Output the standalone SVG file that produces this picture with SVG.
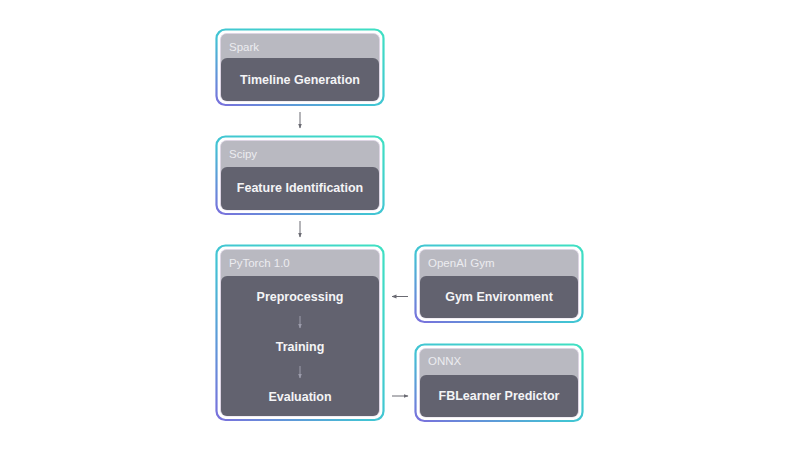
<svg xmlns="http://www.w3.org/2000/svg" width="800" height="450" viewBox="0 0 800 450">
<defs>
<linearGradient id="bord" x1="0" y1="1" x2="1" y2="0">
<stop offset="0" stop-color="#7a6fdc"/>
<stop offset="0.45" stop-color="#42c3d4"/>
<stop offset="1" stop-color="#3fe0c2"/>
</linearGradient>
<marker id="ah" viewBox="0 0 10 10" refX="9" refY="5" markerWidth="5" markerHeight="5" orient="auto">
<path d="M0,1 L10,5 L0,9 Z" fill="#6a6a72"/>
</marker>
<marker id="ahl" viewBox="0 0 10 10" refX="9" refY="5" markerWidth="5" markerHeight="5" orient="auto">
<path d="M0,1 L10,5 L0,9 Z" fill="#9c9cab"/>
</marker>
</defs>
<style>
.outer{fill:#ffffff;stroke:url(#bord);stroke-width:2.2}
.panel{fill:#b9b9c1;stroke:#ddd3e4;stroke-width:0.8}
.dark{fill:#62626f}
.hdr{font-family:"Liberation Sans",Arial,sans-serif;font-size:11.5px;fill:#ececf0}
.lbl{font-family:"Liberation Sans",Arial,sans-serif;font-size:12.5px;font-weight:bold;fill:#f4f4f6;text-anchor:middle;dominant-baseline:central}
.conn{stroke:#6a6a72;stroke-width:1;fill:none;marker-end:url(#ah)}
.inner{stroke:#9c9cab;stroke-width:1;fill:none;marker-end:url(#ahl)}
</style>
<rect width="800" height="450" fill="#ffffff"/>
<g id="spark">
<rect class="outer" x="216.5" y="29.5" width="167" height="75.5" rx="9"/>
<rect class="panel" x="220.5" y="33.5" width="159" height="67.5" rx="6"/>
<path class="dark" d="M221,64 a6,6 0 0 1 6,-6 h146 a6,6 0 0 1 6,6 v31 a6,6 0 0 1 -6,6 h-146 a6,6 0 0 1 -6,-6 Z"/>
<text class="hdr" x="229" y="51">Spark</text>
<text class="lbl" x="300" y="79.5">Timeline Generation</text>
</g>
<g id="scipy">
<rect class="outer" x="216.5" y="136.5" width="167" height="77.5" rx="9"/>
<rect class="panel" x="220.5" y="140.5" width="159" height="69.5" rx="6"/>
<path class="dark" d="M221,173 a6,6 0 0 1 6,-6 h146 a6,6 0 0 1 6,6 v31 a6,6 0 0 1 -6,6 h-146 a6,6 0 0 1 -6,-6 Z"/>
<text class="hdr" x="229" y="158">Scipy</text>
<text class="lbl" x="300" y="187.5">Feature Identification</text>
</g>
<g id="pytorch">
<rect class="outer" x="216.5" y="245.5" width="167" height="174.5" rx="9"/>
<rect class="panel" x="220.5" y="249.5" width="159" height="166.5" rx="6"/>
<path class="dark" d="M221,282 a6,6 0 0 1 6,-6 h146 a6,6 0 0 1 6,6 v128 a6,6 0 0 1 -6,6 h-146 a6,6 0 0 1 -6,-6 Z"/>
<text class="hdr" x="229" y="267">PyTorch 1.0</text>
<text class="lbl" x="300" y="296.5">Preprocessing</text>
<line class="inner" x1="300" y1="316" x2="300" y2="328"/>
<text class="lbl" x="300" y="346.5">Training</text>
<line class="inner" x1="300" y1="366" x2="300" y2="378"/>
<text class="lbl" x="300" y="396.5">Evaluation</text>
</g>
<g id="openai-gym">
<rect class="outer" x="415.5" y="245.5" width="167" height="76.5" rx="9"/>
<rect class="panel" x="419.5" y="249.5" width="159" height="68.5" rx="6"/>
<path class="dark" d="M420,282 a6,6 0 0 1 6,-6 h146 a6,6 0 0 1 6,6 v30 a6,6 0 0 1 -6,6 h-146 a6,6 0 0 1 -6,-6 Z"/>
<text class="hdr" x="428" y="267">OpenAI Gym</text>
<text class="lbl" x="499" y="296.5">Gym Environment</text>
</g>
<g id="onnx">
<rect class="outer" x="415.5" y="344.5" width="167" height="76.5" rx="9"/>
<rect class="panel" x="419.5" y="348.5" width="159" height="68.5" rx="6"/>
<path class="dark" d="M420,381 a6,6 0 0 1 6,-6 h146 a6,6 0 0 1 6,6 v30 a6,6 0 0 1 -6,6 h-146 a6,6 0 0 1 -6,-6 Z"/>
<text class="hdr" x="428" y="365">ONNX</text>
<text class="lbl" x="499" y="395.5">FBLearner Predictor</text>
</g>
<g id="connectors">
<line class="conn" x1="300" y1="112" x2="300" y2="128"/>
<line class="conn" x1="300" y1="221" x2="300" y2="237"/>
<line class="conn" x1="408" y1="296.5" x2="392" y2="296.5"/>
<line class="conn" x1="392" y1="396" x2="408" y2="396"/>
</g>
</svg>
